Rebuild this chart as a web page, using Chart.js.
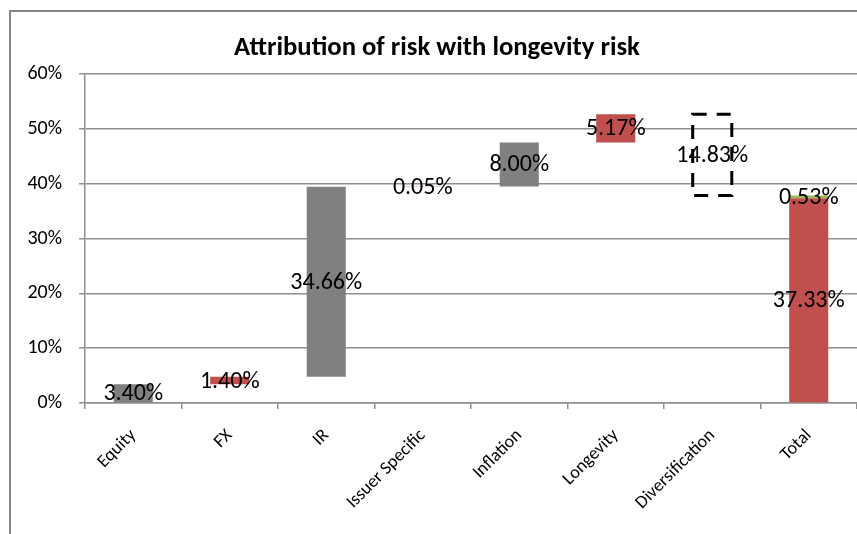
<!DOCTYPE html>
<html>
<head>
<meta charset="utf-8">
<script src="https://cdn.jsdelivr.net/npm/chart.js@4.4.1/dist/chart.umd.min.js"></script>
<style>
  body { margin: 0; background: #fff; }
  #wrap { position: relative; width: 857px; height: 534px; }
</style>
</head>
<body>
<div id="wrap"><canvas id="riskChart" width="857" height="534"></canvas></div>
<script>
// data
const categories = ["Equity", "FX", "IR", "Issuer Specific", "Inflation", "Longevity", "Diversification", "Total"];
const contributions = [3.40, 1.40, 34.66, 0.05, 8.00, 5.17, -14.83];
const totalValue = 37.33;
const residualValue = 0.53;

// colours, one per category
const barFill = ["#808080", "#C0504D", "#808080", "#C0504D", "#808080", "#C0504D", "rgba(0,0,0,0)", "#C0504D"];
const residualFill = "#9BBB59";
const FONT = "Carlito, Lato, 'Liberation Sans', sans-serif";

// waterfall: each step starts where the previous one ended
let running = 0;
const stepBars = contributions.map(function (v) {
    const from = running;
    running += v;
    return [from, running];
});
const mainData = stepBars.concat([[0, totalValue]]);
const residualData = categories.map(function (c, i) {
    return i === categories.length - 1 ? [totalValue, totalValue + residualValue] : null;
});

const mainLabels = contributions.map((v) => Math.abs(v).toFixed(2) + "%").concat([totalValue.toFixed(2) + "%"]);
const residualLabels = categories.map((c, i) => (i === categories.length - 1 ? residualValue.toFixed(2) + "%" : ""));

// outer frame of the chart object (only top and left edges are visible)
const framePlugin = {
    id: "frame",
    beforeDraw(chart) {
        const ctx = chart.ctx;
        ctx.save();
        ctx.strokeStyle = "#868686";
        ctx.lineWidth = 2;
        ctx.beginPath();
        ctx.moveTo(10, chart.height);
        ctx.lineTo(10, 11);
        ctx.lineTo(chart.width, 11);
        ctx.stroke();
        ctx.restore();
    },
};

// value labels in the middle of each bar + dashed diversification box
const labelPlugin = {
    id: "barLabels",
    afterDatasetsDraw(chart) {
        const ctx = chart.ctx;
        ctx.save();
        ctx.font = "24px " + FONT;
        ctx.fillStyle = "#000";
        ctx.textAlign = "center";
        ctx.textBaseline = "middle";
        [mainLabels, residualLabels].forEach(function (labels, di) {
            const meta = chart.getDatasetMeta(di);
            meta.data.forEach(function (el, i) {
                if (!labels[i]) return;
                const p = el.getProps(["x", "y", "base"], true);
                ctx.fillText(labels[i], p.x, (p.y + p.base) / 2 + 1);
            });
        });

        // Diversification step has no fill, only a dashed outline
        const div = chart.getDatasetMeta(0).data[6].getProps(["x", "y", "base", "width"], true);
        ctx.strokeStyle = "#000";
        ctx.lineWidth = 3;
        ctx.setLineDash([14, 10]);
        ctx.strokeRect(div.x - div.width / 2, Math.min(div.y, div.base), div.width, Math.abs(div.base - div.y));
        ctx.restore();
    },
};

new Chart(document.getElementById("riskChart"), {
    type: "bar",
    data: {
        labels: categories,
        datasets: [
            {
                label: "Steps",
                data: mainData,
                backgroundColor: barFill,
                borderWidth: 0,
                grouped: false,
                barPercentage: 0.405,
                categoryPercentage: 1,
            },
            {
                label: "Residual",
                data: residualData,
                backgroundColor: residualFill,
                borderWidth: 0,
                grouped: false,
                barPercentage: 0.405,
                categoryPercentage: 1,
            },
        ],
    },
    plugins: [framePlugin, labelPlugin],
    options: {
        responsive: false,
        animation: false,
        // left padding pushes the title centre right; the y axis width below makes up for it
        layout: { padding: { left: 17, right: 0, top: 0, bottom: 0 } },
        plugins: {
            legend: { display: false },
            tooltip: { enabled: false },
            title: {
                display: true,
                text: "Attribution of risk with longevity risk",
                color: "#000",
                font: { family: FONT, size: 26.7, weight: "bold" },
                padding: { top: 32, bottom: 10 },
            },
        },
        scales: {
            x: {
                afterFit(scale) { scale.height = 131; },
                grid: {
                    drawOnChartArea: false,
                    color: "#8f8f8f",
                    lineWidth: 1.5,
                    tickLength: 6,
                },
                border: { color: "#8f8f8f", width: 1.5 },
                ticks: {
                    color: "#000",
                    font: { family: FONT, size: 18 },
                    minRotation: 45,
                    maxRotation: 45,
                    padding: 16,
                    autoSkip: false,
                },
            },
            y: {
                min: 0,
                max: 60,
                afterFit(scale) { scale.width = 68; },
                grid: {
                    color: "#8f8f8f",
                    lineWidth: 1.5,
                    tickLength: 6,
                },
                border: { color: "#8f8f8f", width: 1.5 },
                ticks: {
                    stepSize: 10,
                    color: "#000",
                    font: { family: FONT, size: 20 },
                    padding: 17,
                    callback: (v) => v + "%",
                },
            },
        },
    },
});
</script>
</body>
</html>
